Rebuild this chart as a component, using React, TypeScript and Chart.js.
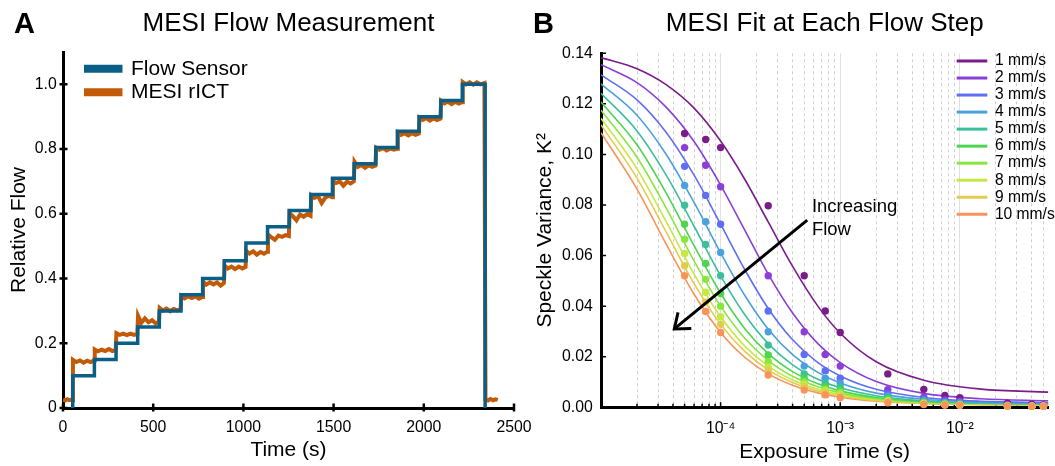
import React, { useEffect, useRef } from 'react';
import { Chart, registerables } from 'chart.js';

Chart.register(...registerables);

const FONT = '"Liberation Sans", Arial, Helvetica, sans-serif';
Chart.defaults.font.family = FONT;
Chart.defaults.color = '#000';

// ---------------- Panel A: MESI Flow Measurement ----------------
const flowSensorTimes = [54, 54, 174, 294, 414, 534, 654, 774, 894, 1014, 1134, 1254, 1374, 1494, 1614, 1734, 1854, 1974, 2094, 2214, 2340];
const flowSensorValues = [0, 0.1, 0.15, 0.2, 0.25, 0.3, 0.35, 0.4, 0.455, 0.51, 0.56, 0.61, 0.66, 0.71, 0.755, 0.805, 0.855, 0.9, 0.95, 1.0, 0];

const mesiTimes = [
  0, 12, 24, 36, 48, 53,
  55, 74, 94, 114, 134, 154, 172,
  176, 194, 214, 234, 254, 274, 292,
  296, 314, 334, 354, 374, 394, 412,
  416, 434, 454, 474, 494, 514, 532,
  536, 554, 574, 594, 614, 634, 652,
  656, 674, 694, 714, 734, 754, 772,
  776, 794, 814, 834, 854, 874, 892,
  896, 914, 934, 954, 974, 994, 1012,
  1016, 1034, 1054, 1074, 1094, 1114, 1132,
  1136, 1154, 1174, 1194, 1214, 1234, 1252,
  1256, 1274, 1294, 1314, 1334, 1354, 1372,
  1376, 1394, 1414, 1434, 1454, 1474, 1492,
  1496, 1514, 1534, 1554, 1574, 1594, 1612,
  1616, 1634, 1654, 1674, 1694, 1714, 1732,
  1736, 1754, 1774, 1794, 1814, 1834, 1852,
  1856, 1874, 1894, 1914, 1934, 1954, 1972,
  1976, 1994, 2014, 2034, 2054, 2074, 2092,
  2096, 2114, 2134, 2154, 2174, 2194, 2212,
  2216, 2234, 2254, 2274, 2294, 2314, 2336,
  2342, 2356, 2370, 2384, 2398, 2410,
];
const mesiValues = [
  0.026, 0.023, 0.027, 0.024, 0.026, 0.025,
  0.149, 0.142, 0.147, 0.140, 0.146, 0.142, 0.147,
  0.181, 0.175, 0.180, 0.176, 0.182, 0.176, 0.179,
  0.231, 0.226, 0.230, 0.225, 0.230, 0.226, 0.229,
  0.285, 0.263, 0.277, 0.265, 0.271, 0.261, 0.268,
  0.309, 0.301, 0.307, 0.299, 0.306, 0.302, 0.306,
  0.346, 0.339, 0.345, 0.340, 0.345, 0.338, 0.343,
  0.391, 0.381, 0.388, 0.382, 0.388, 0.378, 0.386,
  0.440, 0.431, 0.437, 0.429, 0.437, 0.431, 0.436,
  0.486, 0.477, 0.484, 0.474, 0.482, 0.477, 0.483,
  0.536, 0.528, 0.520, 0.533, 0.529, 0.534, 0.531,
  0.602, 0.593, 0.580, 0.598, 0.591, 0.599, 0.594,
  0.657, 0.649, 0.655, 0.633, 0.650, 0.656, 0.651,
  0.702, 0.695, 0.700, 0.687, 0.699, 0.694, 0.700,
  0.761, 0.745, 0.751, 0.742, 0.750, 0.745, 0.749,
  0.804, 0.798, 0.803, 0.796, 0.802, 0.798, 0.801,
  0.851, 0.844, 0.849, 0.842, 0.849, 0.844, 0.848,
  0.897, 0.890, 0.896, 0.888, 0.895, 0.890, 0.894,
  0.949, 0.941, 0.947, 0.939, 0.946, 0.941, 0.945,
  1.007, 1.000, 1.006, 0.999, 1.006, 1.000, 1.004,
  0.027, 0.023, 0.028, 0.024, 0.027, 0.025,
];
const timeTicks = [0, 500, 1000, 1500, 2000, 2500];
const flowTicks = [0, 0.2, 0.4, 0.6, 0.8, 1.0];
const flowTickLabels = ['0', '0.2', '0.4', '0.6', '0.8', '1.0'];

// ---------------- Panel B: MESI Fit at Each Flow Step ----------------
const flowLabels = ['1 mm/s', '2 mm/s', '3 mm/s', '4 mm/s', '5 mm/s', '6 mm/s', '7 mm/s', '8 mm/s', '9 mm/s', '10 mm/s'];
const flowColors = ['#7a1c8a', '#8b3fd5', '#5f6ef2', '#4aa1de', '#3cbf9c', '#4cd54f', '#8ae63d', '#c6e845', '#e2cc50', '#f8945a'];
const exposureTimes = [5e-5, 7.5e-5, 1e-4, 2.5e-4, 5e-4, 7.5e-4, 1e-3, 2.5e-3, 5e-3, 7.5e-3, 1e-2, 2.5e-2, 4e-2, 5e-2];
const measuredK2 = [
  [0.1083, 0.1059, 0.1027, 0.0797, 0.0520, 0.0381, 0.0296, 0.0132, 0.0071, 0.0047, 0.0038, 0.0016, 0.0012, 0.0009],
  [0.1027, 0.0957, 0.0872, 0.0520, 0.0299, 0.0209, 0.0163, 0.0070, 0.0040, 0.0029, 0.0024, 0.0010, 0.0007, 0.0006],
  [0.0953, 0.0838, 0.0724, 0.0381, 0.0209, 0.0145, 0.0115, 0.0054, 0.0032, 0.0023, 0.0019, 0.0008, 0.0006, 0.0005],
  [0.0877, 0.0734, 0.0612, 0.0299, 0.0163, 0.0115, 0.0095, 0.0045, 0.0026, 0.0019, 0.0016, 0.0007, 0.0005, 0.0005],
  [0.0799, 0.0644, 0.0520, 0.0246, 0.0132, 0.0095, 0.0079, 0.0038, 0.0022, 0.0016, 0.0013, 0.0006, 0.0005, 0.0004],
  [0.0724, 0.0569, 0.0450, 0.0207, 0.0115, 0.0081, 0.0068, 0.0032, 0.0019, 0.0014, 0.0011, 0.0006, 0.0004, 0.0004],
  [0.0665, 0.0506, 0.0400, 0.0180, 0.0101, 0.0072, 0.0059, 0.0028, 0.0017, 0.0012, 0.0010, 0.0005, 0.0004, 0.0004],
  [0.0608, 0.0455, 0.0358, 0.0160, 0.0091, 0.0066, 0.0051, 0.0025, 0.0015, 0.0011, 0.0009, 0.0005, 0.0004, 0.0004],
  [0.0560, 0.0417, 0.0328, 0.0145, 0.0081, 0.0058, 0.0045, 0.0022, 0.0013, 0.0010, 0.0008, 0.0005, 0.0004, 0.0004],
  [0.0520, 0.0379, 0.0296, 0.0128, 0.0068, 0.0049, 0.0038, 0.0018, 0.0011, 0.0009, 0.0008, 0.0005, 0.0004, 0.0004],
];
const fitTimes = [1e-5, 2e-5, 3.5e-5, 6e-5, 1e-4, 1.6e-4, 2.5e-4, 4e-4, 6.5e-4, 1e-3, 2e-3, 5e-3, 1.5e-2, 5.5e-2];
const fitK2 = [
  [0.1383, 0.1339, 0.1276, 0.1183, 0.1053, 0.0900, 0.0733, 0.0557, 0.0400, 0.0293, 0.0180, 0.0107, 0.0072, 0.0060],
  [0.1355, 0.1284, 0.1187, 0.1051, 0.0879, 0.0699, 0.0527, 0.0373, 0.0252, 0.0177, 0.0102, 0.0055, 0.0034, 0.0026],
  [0.1315, 0.1216, 0.1088, 0.0918, 0.0724, 0.0543, 0.0391, 0.0267, 0.0177, 0.0124, 0.0071, 0.0039, 0.0024, 0.0019],
  [0.1279, 0.1155, 0.1001, 0.0810, 0.0611, 0.0441, 0.0309, 0.0208, 0.0138, 0.0096, 0.0056, 0.0032, 0.0021, 0.0017],
  [0.1242, 0.1093, 0.0919, 0.0716, 0.0520, 0.0365, 0.0252, 0.0168, 0.0111, 0.0077, 0.0046, 0.0026, 0.0017, 0.0014],
  [0.1207, 0.1038, 0.0848, 0.0639, 0.0451, 0.0310, 0.0212, 0.0141, 0.0093, 0.0065, 0.0039, 0.0023, 0.0016, 0.0013],
  [0.1175, 0.0989, 0.0789, 0.0579, 0.0400, 0.0272, 0.0185, 0.0123, 0.0081, 0.0057, 0.0034, 0.0020, 0.0014, 0.0012],
  [0.1143, 0.0943, 0.0735, 0.0527, 0.0358, 0.0241, 0.0163, 0.0108, 0.0071, 0.0050, 0.0030, 0.0018, 0.0013, 0.0011],
  [0.1117, 0.0906, 0.0694, 0.0489, 0.0328, 0.0220, 0.0148, 0.0098, 0.0064, 0.0045, 0.0027, 0.0016, 0.0011, 0.0010],
  [0.1086, 0.0863, 0.0646, 0.0447, 0.0296, 0.0197, 0.0132, 0.0087, 0.0057, 0.0040, 0.0024, 0.0015, 0.0010, 0.0009],
];
const exposureDecades = [1e-4, 1e-3, 1e-2];
const exposureTickLabels = ['10⁻⁴', '10⁻³', '10⁻²'];
const varianceTicks = [0, 0.02, 0.04, 0.06, 0.08, 0.1, 0.12, 0.14];
const varianceTickLabels = ['0.00', '0.02', '0.04', '0.06', '0.08', '0.10', '0.12', '0.14'];
const arrowStart = { x: 5.3e-4, y: 0.074 };
const arrowEnd = { x: 4.1e-5, y: 0.031 };
const arrowLabelLines = ['Increasing', 'Flow'];
const arrowLabelAnchor = { x: 5.8e-4, y: [0.0793, 0.0701] };

const BLUE = '#0b5f86';
const ORANGE = '#c25a08';

const isDecade = (v: number) => {
  const l = Math.log10(v);
  return Math.abs(l - Math.round(l)) < 1e-9;
};

// ---------------- plugins ----------------
function makeLegend(cfg: any) {
  return {
    id: 'insetLegend',
    afterDraw(chart: any) {
      const ctx = chart.ctx;
      ctx.save();
      const items = chart.data.datasets.filter((d: any) => d.inLegend);
      items.forEach((ds: any, i: number) => {
        const y = cfg.y + i * cfg.rowGap;
        ctx.strokeStyle = ds.borderColor;
        ctx.lineWidth = cfg.lineWidth;
        ctx.lineCap = 'butt';
        ctx.beginPath();
        ctx.moveTo(cfg.x, y);
        ctx.lineTo(cfg.x + cfg.lineLength, y);
        ctx.stroke();
        ctx.fillStyle = '#000';
        ctx.font = `${cfg.fontSize}px ${FONT}`;
        ctx.textBaseline = 'middle';
        ctx.textAlign = 'left';
        ctx.fillText(ds.label, cfg.x + cfg.lineLength + cfg.textGap, y);
      });
      ctx.restore();
    },
  };
}

function makeLetter(text: string, x: number, y: number) {
  return {
    id: 'panelLetter',
    afterDraw(chart: any) {
      const ctx = chart.ctx;
      ctx.save();
      ctx.fillStyle = '#000';
      ctx.font = `bold 29px ${FONT}`;
      ctx.textBaseline = 'alphabetic';
      ctx.textAlign = 'left';
      ctx.fillText(text, x, y);
      ctx.restore();
    },
  };
}

function makeTicks(cfg: any) {
  return {
    id: 'axisTicks',
    beforeDatasetsDraw(chart: any) {
      const { ctx, chartArea } = chart;
      const xs = chart.scales.x;
      const ys = chart.scales.y;
      ctx.save();
      ctx.strokeStyle = '#000';
      ctx.lineWidth = cfg.width;
      ctx.beginPath();
      xs.ticks.forEach((t: any) => {
        let len = cfg.inner;
        if (cfg.log) {
          if (t.value <= xs.min * 1.0001 || t.value >= xs.max) return;
          len = isDecade(t.value) ? cfg.inner : cfg.minorInner;
        }
        const px = xs.getPixelForValue(t.value);
        ctx.moveTo(px, chartArea.bottom + cfg.outer);
        ctx.lineTo(px, chartArea.bottom - len);
      });
      ys.ticks.forEach((t: any) => {
        const py = ys.getPixelForValue(t.value);
        ctx.moveTo(chartArea.left - cfg.outer, py);
        ctx.lineTo(chartArea.left + cfg.inner, py);
      });
      ctx.stroke();
      ctx.restore();
    },
  };
}

const arrowPlugin = {
  id: 'flowArrow',
  afterDatasetsDraw(chart: any) {
    const { ctx } = chart;
    const xs = chart.scales.x;
    const ys = chart.scales.y;
    const x1 = xs.getPixelForValue(arrowStart.x);
    const y1 = ys.getPixelForValue(arrowStart.y);
    const x2 = xs.getPixelForValue(arrowEnd.x);
    const y2 = ys.getPixelForValue(arrowEnd.y);
    const ang = Math.atan2(y1 - y2, x1 - x2);
    const head = 17;
    const spread = (38 * Math.PI) / 180;
    ctx.save();
    ctx.strokeStyle = '#000';
    ctx.lineWidth = 3;
    ctx.lineCap = 'butt';
    ctx.lineJoin = 'miter';
    ctx.beginPath();
    ctx.moveTo(x1, y1);
    ctx.lineTo(x2, y2);
    ctx.stroke();
    ctx.beginPath();
    ctx.moveTo(x2 + head * Math.cos(ang + spread), y2 + head * Math.sin(ang + spread));
    ctx.lineTo(x2, y2);
    ctx.lineTo(x2 + head * Math.cos(ang - spread), y2 + head * Math.sin(ang - spread));
    ctx.stroke();
    ctx.fillStyle = '#000';
    ctx.font = `18.5px ${FONT}`;
    ctx.textBaseline = 'middle';
    ctx.textAlign = 'left';
    const lx = xs.getPixelForValue(arrowLabelAnchor.x);
    arrowLabelLines.forEach((line, i) => {
      ctx.fillText(line, lx, ys.getPixelForValue(arrowLabelAnchor.y[i]));
    });
    ctx.restore();
  },
};

// ---------------- configs ----------------
function configA(): any {
  return {
    type: 'line',
    data: {
      datasets: [
        {
          label: 'Flow Sensor',
          data: flowSensorTimes.map((t, i) => ({ x: t, y: flowSensorValues[i] })),
          borderColor: BLUE,
          backgroundColor: BLUE,
          borderWidth: 3.5,
          pointRadius: 0,
          stepped: 'before',
          order: 0,
          inLegend: true,
        },
        {
          label: 'MESI rICT',
          data: mesiTimes.map((t, i) => ({ x: t, y: mesiValues[i] })),
          borderColor: ORANGE,
          backgroundColor: ORANGE,
          borderWidth: 4,
          pointRadius: 0,
          tension: 0,
          order: 1,
          inLegend: true,
        },
      ],
    },
    options: {
      responsive: false,
      animation: false,
      events: [],
      layout: { padding: { left: 0, right: 541, top: 0, bottom: 0 }, autoPadding: false },
      plugins: {
        legend: { display: false },
        tooltip: { enabled: false },
        title: {
          display: true,
          text: 'MESI Flow Measurement',
          color: '#000',
          fullSize: false,
          font: { family: FONT, size: 26, weight: 'normal' },
          padding: { top: 8.1, bottom: 12.7 },
        },
      },
      scales: {
        x: {
          type: 'linear',
          min: 0,
          max: 2500,
          bounds: 'data',
          afterBuildTicks: (s: any) => {
            s.ticks = timeTicks.map((v) => ({ value: v }));
          },
          afterFit: (s: any) => {
            s.height = 58;
          },
          ticks: {
            autoSkip: false,
            maxRotation: 0,
            padding: 10,
            color: '#000',
            font: { family: FONT, size: 15.8 },
            callback: (v: any) => String(v),
          },
          grid: { display: false, drawTicks: false },
          border: { display: true, color: '#000', width: 3 },
          title: {
            display: true,
            text: 'Time (s)',
            color: '#000',
            font: { family: FONT, size: 21 },
            padding: { top: 4, bottom: 3 },
          },
        },
        y: {
          type: 'linear',
          min: 0,
          max: 1.1,
          bounds: 'data',
          afterBuildTicks: (s: any) => {
            s.ticks = flowTicks.map((v) => ({ value: v }));
          },
          afterFit: (s: any) => {
            s.width = 63;
          },
          ticks: {
            autoSkip: false,
            padding: 6.3,
            color: '#000',
            font: { family: FONT, size: 15.8 },
            callback: (_v: any, i: number) => flowTickLabels[i],
          },
          grid: { display: false, drawTicks: false },
          border: { display: true, color: '#000', width: 3 },
          title: {
            display: true,
            text: 'Relative Flow',
            color: '#000',
            font: { family: FONT, size: 21 },
            padding: { top: 6.6, bottom: 4 },
          },
        },
      },
    },
    plugins: [
      makeTicks({ inner: 4.5, outer: 3.5, width: 2.5 }),
      makeLegend({ x: 84, y: 68.8, rowGap: 23.4, lineLength: 38.5, lineWidth: 8, textGap: 8.5, fontSize: 21 }),
      makeLetter('A', 14, 33.3),
    ],
  };
}

function configB(): any {
  const fitSets = flowLabels.map((label, i) => ({
    label,
    data: fitTimes.map((t, j) => ({ x: t, y: fitK2[i][j] })),
    borderColor: flowColors[i],
    backgroundColor: flowColors[i],
    borderWidth: 1.6,
    pointRadius: 0,
    cubicInterpolationMode: 'monotone',
    order: 100 + i,
    inLegend: true,
  }));
  const dotSets = flowLabels.map((label, i) => ({
    label: label + ' measured',
    data: exposureTimes.map((t, j) => ({ x: t, y: measuredK2[i][j] })),
    showLine: false,
    borderColor: flowColors[i],
    backgroundColor: flowColors[i],
    pointBackgroundColor: flowColors[i],
    pointBorderWidth: 0,
    pointRadius: 3.7,
    clip: false,
    order: 10 - i,
    inLegend: false,
  }));
  return {
    type: 'line',
    data: { datasets: [...fitSets, ...dotSets] },
    options: {
      responsive: false,
      animation: false,
      events: [],
      layout: { padding: { left: 527, right: 0, top: 0, bottom: 0 }, autoPadding: false },
      plugins: {
        legend: { display: false },
        tooltip: { enabled: false },
        title: {
          display: true,
          text: 'MESI Fit at Each Flow Step',
          color: '#000',
          fullSize: false,
          font: { family: FONT, size: 26, weight: 'normal' },
          padding: { top: 8.1, bottom: 14 },
        },
      },
      scales: {
        x: {
          type: 'logarithmic',
          min: 1e-5,
          max: 0.055,
          afterBuildTicks: (s: any) => {
            const ticks: any[] = [];
            for (let e = -5; e <= -2; e++) {
              for (let m = 1; m <= 9; m++) {
                const v = m * Math.pow(10, e);
                if (v <= 0.055) ticks.push({ value: v, major: m === 1 });
              }
            }
            s.ticks = ticks;
          },
          afterFit: (s: any) => {
            s.height = 58.7;
          },
          ticks: {
            autoSkip: false,
            maxRotation: 0,
            minRotation: 0,
            padding: 11.5,
            color: '#000',
            font: { family: FONT, size: 15.8 },
            callback: (v: any) => {
              const i = exposureDecades.findIndex((d) => Math.abs(d - v) / d < 1e-6);
              return i >= 0 ? exposureTickLabels[i] : '';
            },
          },
          grid: {
            display: true,
            drawTicks: false,
            drawOnChartArea: true,
            lineWidth: 1,
            color: (c: any) => {
              const v = c.tick && c.tick.value;
              if (!v || v <= 1.0001e-5 || v > 0.0501) return 'rgba(0,0,0,0)';
              return isDecade(v) ? '#e0e0e0' : '#d0d0d0';
            },
          },
          border: {
            display: true,
            color: '#000',
            width: 3,
            dash: (c: any) => (c.tick && !isDecade(c.tick.value) ? [3, 3] : []),
          },
          title: {
            display: true,
            text: 'Exposure Time (s)',
            color: '#000',
            font: { family: FONT, size: 21 },
            padding: { top: 4, bottom: 1.5 },
          },
        },
        y: {
          type: 'linear',
          min: 0,
          max: 0.14,
          bounds: 'data',
          afterBuildTicks: (s: any) => {
            s.ticks = varianceTicks.map((v) => ({ value: v }));
          },
          afterFit: (s: any) => {
            s.width = 74;
          },
          ticks: {
            autoSkip: false,
            padding: 8.3,
            color: '#000',
            font: { family: FONT, size: 15.8 },
            callback: (_v: any, i: number) => varianceTickLabels[i],
          },
          grid: { display: false, drawTicks: false },
          border: { display: true, color: '#000', width: 3 },
          title: {
            display: true,
            text: 'Speckle Variance, K²',
            color: '#000',
            font: { family: FONT, size: 21 },
            padding: { top: 5.5, bottom: 4 },
          },
        },
      },
    },
    plugins: [
      makeTicks({ inner: 5, outer: 0, width: 1.5, log: true, minorInner: 3.5 }),
      arrowPlugin,
      makeLegend({ x: 956.7, y: 61, rowGap: 17.03, lineLength: 30.6, lineWidth: 3, textGap: 7.6, fontSize: 15.6 }),
      makeLetter('B', 533, 33.3),
    ],
  };
}

export default function App() {
  const refA = useRef<HTMLCanvasElement>(null);
  const refB = useRef<HTMLCanvasElement>(null);
  useEffect(() => {
    const a = new Chart(refA.current as HTMLCanvasElement, configA());
    const b = new Chart(refB.current as HTMLCanvasElement, configB());
    return () => {
      a.destroy();
      b.destroy();
    };
  }, []);
  return (
    <div style={{ position: 'fixed', left: 0, top: 0, width: 1055, height: 466, background: '#fff' }}>
      <canvas ref={refA} width={1055} height={466} style={{ position: 'absolute', left: 0, top: 0 }} />
      <canvas ref={refB} width={1055} height={466} style={{ position: 'absolute', left: 0, top: 0 }} />
    </div>
  );
}
